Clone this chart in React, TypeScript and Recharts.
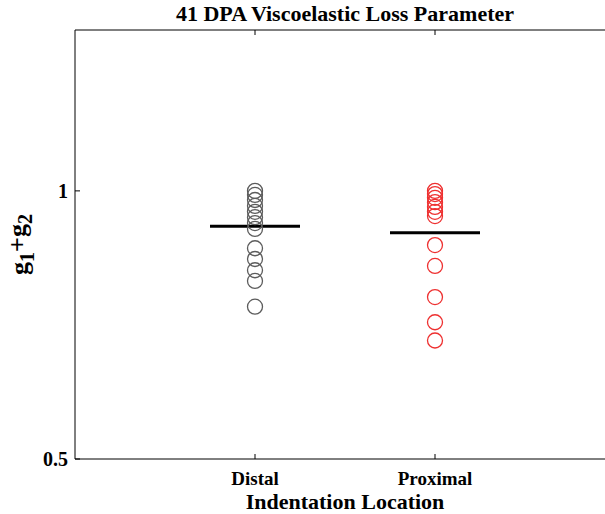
import React from 'react';
import { ComposedChart, Scatter, Line, XAxis, YAxis, Label } from 'recharts';

const categories = ['Distal', 'Proximal'];
const distalValues = [1.0, 0.9925, 0.983, 0.972, 0.961, 0.951, 0.94, 0.929, 0.893, 0.873, 0.852, 0.832, 0.784];
const proximalValues = [1.0, 0.994, 0.987, 0.979, 0.97, 0.961, 0.953, 0.899, 0.86, 0.802, 0.755, 0.721];
const meanValues = [0.934, 0.922];
const yTicks = [0.5, 1];
const xTicks = [1, 2];
const title = '41 DPA Viscoelastic Loss Parameter';

const FONT = '"Liberation Serif", "Times New Roman", serif';
const HALF = 0.25;

const distalData = distalValues.map((v) => ({ x: 1, y: v }));
const proximalData = proximalValues.map((v) => ({ x: 2, y: v }));
const meanData = meanValues.map((m, i) => [
  { x: i + 1 - HALF, y: m },
  { x: i + 1 + HALF, y: m },
]);

const ring = (color: string) => (props: any) => (
  <circle cx={props.cx} cy={props.cy} r={7.5} fill="none" stroke={color} strokeWidth={1.3} />
);

const YLabel = (props: any) => {
  const vb = props.viewBox || { x: 0, y: 0, width: 0, height: 0 };
  const cx = 28;
  const cy = vb.y + vb.height / 2;
  return (
    <text
      x={cx}
      y={cy}
      transform={`rotate(-90, ${cx}, ${cy})`}
      textAnchor="middle"
      fontFamily={FONT}
      fontWeight="bold"
      fontSize={26}
      fill="#000"
    >
      <tspan>g</tspan>
      <tspan dy="0.3em" fontSize={20}>1</tspan>
      <tspan dy="-0.3em">+g</tspan>
      <tspan dy="0.3em" fontSize={20}>2</tspan>
    </text>
  );
};

export default function App() {
  return (
    <div style={{ position: 'absolute', left: 0, top: 0, width: 605, height: 514, overflow: 'hidden', background: '#fff' }}>
      <div
        style={{
          position: 'absolute',
          left: 0,
          top: 2,
          width: 690,
          textAlign: 'center',
          fontFamily: FONT,
          fontWeight: 'bold',
          fontSize: 22,
          lineHeight: '24px',
          color: '#000',
          whiteSpace: 'nowrap',
        }}
      >
        {title}
      </div>
      <ComposedChart width={605} height={514} margin={{ top: 29, right: -10, bottom: 0, left: 0 }}>
        <XAxis
          xAxisId="b"
          type="number"
          dataKey="x"
          domain={[0, 3]}
          ticks={xTicks}
          tickFormatter={(v: number) => categories[v - 1]}
          height={55}
          tickSize={-5}
          tickMargin={18}
          axisLine={{ stroke: '#000', strokeWidth: 1 }}
          tickLine={{ stroke: '#000' }}
          tick={{ fill: '#000', fontFamily: FONT, fontWeight: 'bold', fontSize: 19 }}
          allowDataOverflow
        >
          <Label
            value="Indentation Location"
            position="insideBottom"
            offset={5}
            style={{ fill: '#000', fontFamily: FONT, fontWeight: 'bold', fontSize: 22 }}
          />
        </XAxis>
        <XAxis
          xAxisId="t"
          orientation="top"
          type="number"
          dataKey="x"
          domain={[0, 3]}
          ticks={xTicks}
          height={1}
          tickSize={-5}
          tickFormatter={() => ''}
          axisLine={{ stroke: '#000', strokeWidth: 1 }}
          tickLine={{ stroke: '#000' }}
          allowDataOverflow
        />
        <YAxis
          yAxisId="l"
          type="number"
          domain={[0.5, 1.3]}
          ticks={yTicks}
          width={75}
          tickSize={-5}
          tickMargin={12}
          axisLine={{ stroke: '#000', strokeWidth: 1 }}
          tickLine={{ stroke: '#000' }}
          tick={{ fill: '#000', fontFamily: FONT, fontWeight: 'bold', fontSize: 20 }}
          allowDataOverflow
        >
          <Label content={<YLabel />} />
        </YAxis>
        <Scatter
          xAxisId="b"
          yAxisId="l"
          data={distalData}
          dataKey="y"
          shape={ring('#5c5c5c')}
          isAnimationActive={false}
        />
        <Scatter
          xAxisId="b"
          yAxisId="l"
          data={proximalData}
          dataKey="y"
          shape={ring('#ee3030')}
          isAnimationActive={false}
        />
        {meanData.map((d, i) => (
          <Line
            key={i}
            xAxisId="b"
            yAxisId="l"
            data={d}
            dataKey="y"
            stroke="#000"
            strokeWidth={3}
            dot={false}
            activeDot={false}
            isAnimationActive={false}
          />
        ))}
      </ComposedChart>
    </div>
  );
}
